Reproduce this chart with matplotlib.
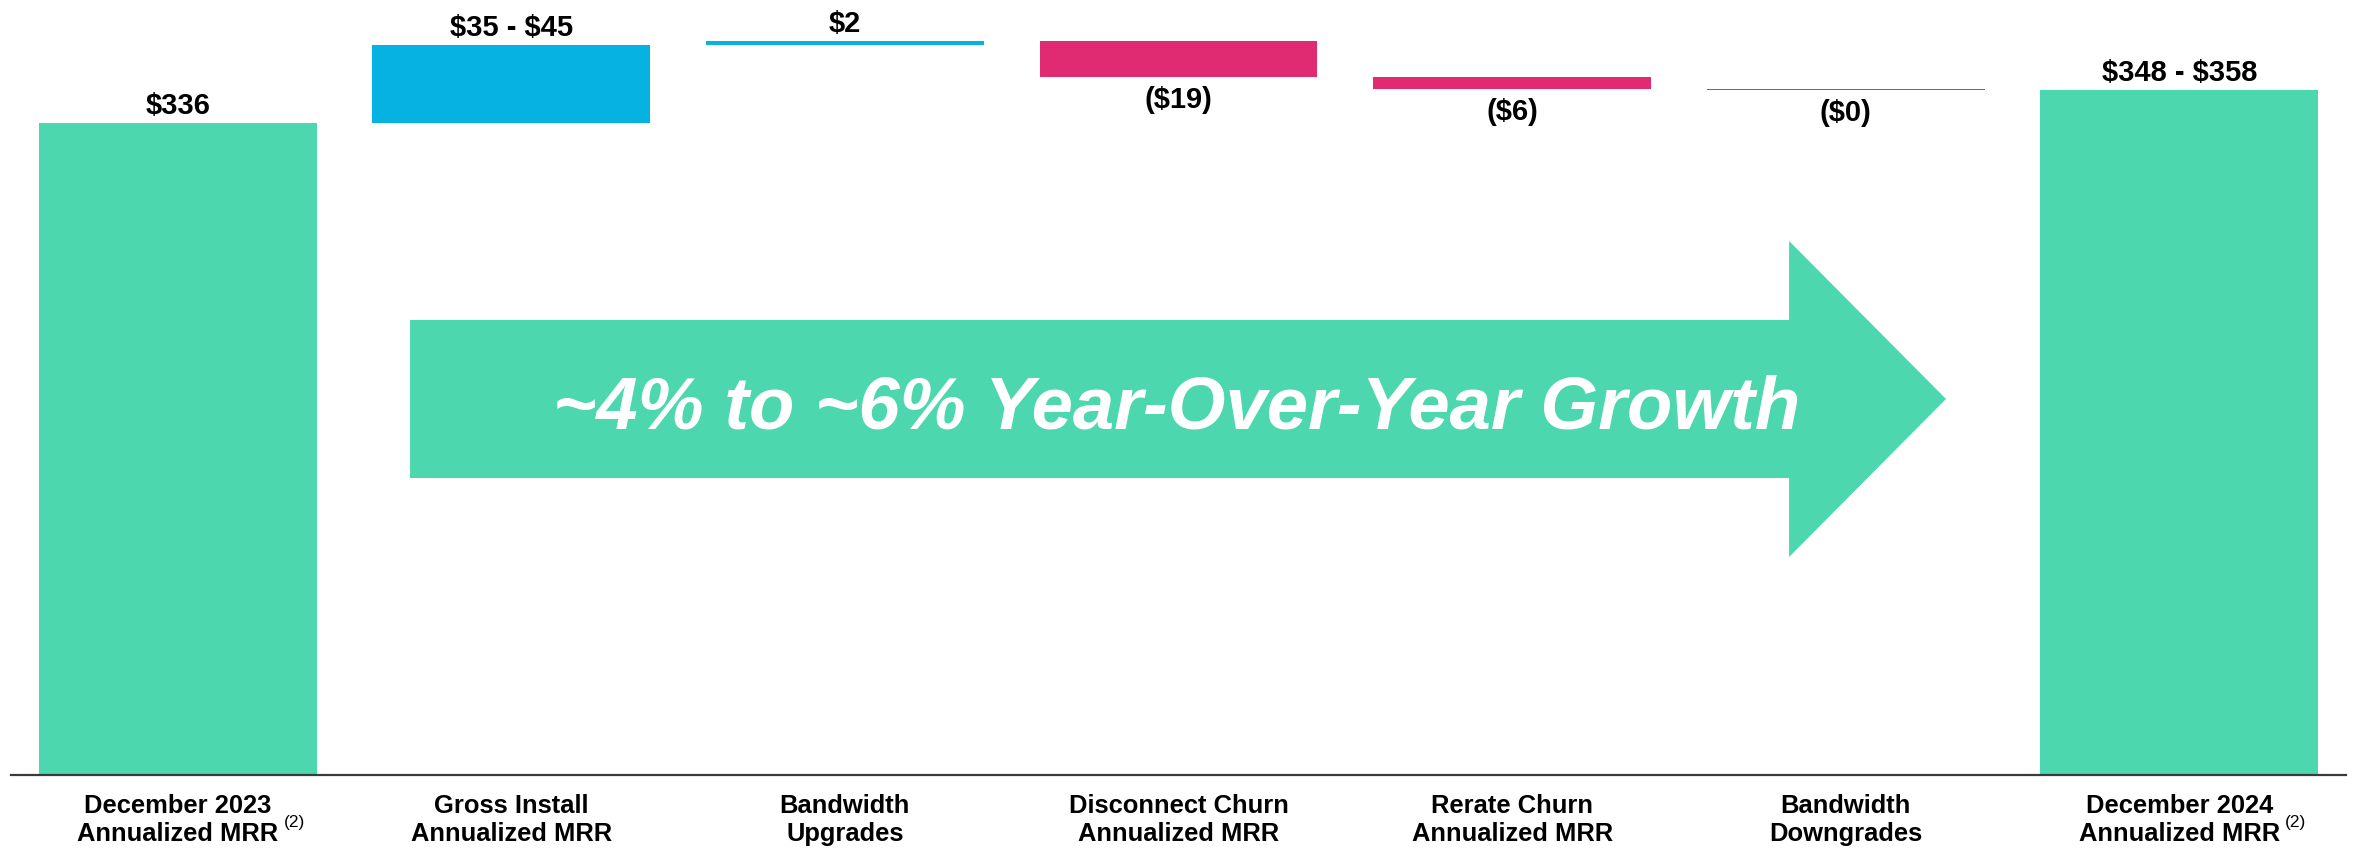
import matplotlib
matplotlib.use("Agg")
import matplotlib.pyplot as plt
from matplotlib.patches import Polygon
import numpy as np

plt.rcParams['font.family'] = ['Liberation Sans', 'DejaVu Sans']

# ---- data ----
categories = ["December 2023\nAnnualized MRR", "Gross Install\nAnnualized MRR",
              "Bandwidth\nUpgrades", "Disconnect Churn\nAnnualized MRR",
              "Rerate Churn\nAnnualized MRR", "Bandwidth\nDowngrades",
              "December 2024\nAnnualized MRR"]
start_value = 336
changes = [40, 2.5, -19, -6, -0.3]
end_value = 353
value_labels = ["$336", "$35 - $45", "$2", "($19)", "($6)", "($0)", "$348 - $358"]
superscript_idx = [0, 6]
arrow_text = "~4% to ~6% Year-Over-Year Growth"

GREEN = "#4CD7AE"
BLUE = "#05B2E1"
PINK = "#E02A72"

# ---- figure ----
fig = plt.figure(figsize=(23.54, 8.52), dpi=100)
ax = fig.add_axes([11/2354, 77/852, 2335/2354, 775/852])

n = len(categories)
x = np.arange(n)
cum = start_value + np.cumsum(changes)
prev = np.concatenate([[start_value], cum[:-1]])

bottoms = [0] + [min(p, c) for p, c in zip(prev, cum)] + [0]
heights = [start_value] + [abs(c) for c in changes] + [end_value]
colors = [GREEN] + [BLUE if c > 0 else PINK for c in changes] + [GREEN]

width = 0.833
ax.bar(x, heights, bottom=bottoms, width=width, color=colors, linewidth=0, zorder=2)

ax.set_xlim(-0.5, n - 0.5)
ax.set_ylim(0, 399.4)
for s in ['top', 'right', 'left']:
    ax.spines[s].set_visible(False)
ax.spines['bottom'].set_color('#3a3a3a')
ax.spines['bottom'].set_linewidth(1.6)
ax.set_yticks([])
ax.set_xticks([])

# value labels
tops = [start_value] + list(np.maximum(prev, cum)) + [end_value]
lows = [0] + list(np.minimum(prev, cum)) + [0]
all_changes = [start_value] + changes + [end_value]
for i in range(n):
    if all_changes[i] >= 0:
        ax.annotate(value_labels[i], xy=(x[i], tops[i]), xytext=(0, 6.5),
                    textcoords='offset points', ha='center', va='baseline',
                    fontsize=21, fontweight='bold', color='black', parse_math=False)
    else:
        ax.annotate(value_labels[i], xy=(x[i], lows[i]), xytext=(0, -6.5),
                    textcoords='offset points', ha='center', va='top',
                    fontsize=21, fontweight='bold', color='black', parse_math=False)

# category labels
for i in range(n):
    t = ax.annotate(categories[i], xy=(x[i], 0), xycoords=('data', 'axes fraction'),
                    xytext=(0, -14), textcoords='offset points', ha='center', va='top',
                    fontsize=18.4, fontweight='bold', linespacing=1.2, color='black')
    if i in superscript_idx:
        ax.annotate("(2)", xy=(1, 0.45), xycoords=t, xytext=(4, 0),
                    textcoords='offset points', ha='left', va='center',
                    fontsize=12.5, color='black')

# growth arrow
pts = [(0.1709, 0.3832), (0.7615, 0.3832), (0.7615, 0.2813), (0.8287, 0.4852),
       (0.7615, 0.6890), (0.7615, 0.5871), (0.1709, 0.5871)]
ax.add_patch(Polygon(pts, closed=True, transform=ax.transAxes, facecolor=GREEN,
                     edgecolor='none', zorder=3, clip_on=False))
ax.text(0.4994, 0.447, arrow_text, transform=ax.transAxes, ha='center', va='baseline',
        fontsize=53.5, fontweight='bold', fontstyle='italic', color='white', zorder=4)

fig.savefig("out.png", dpi=100, facecolor='white')
